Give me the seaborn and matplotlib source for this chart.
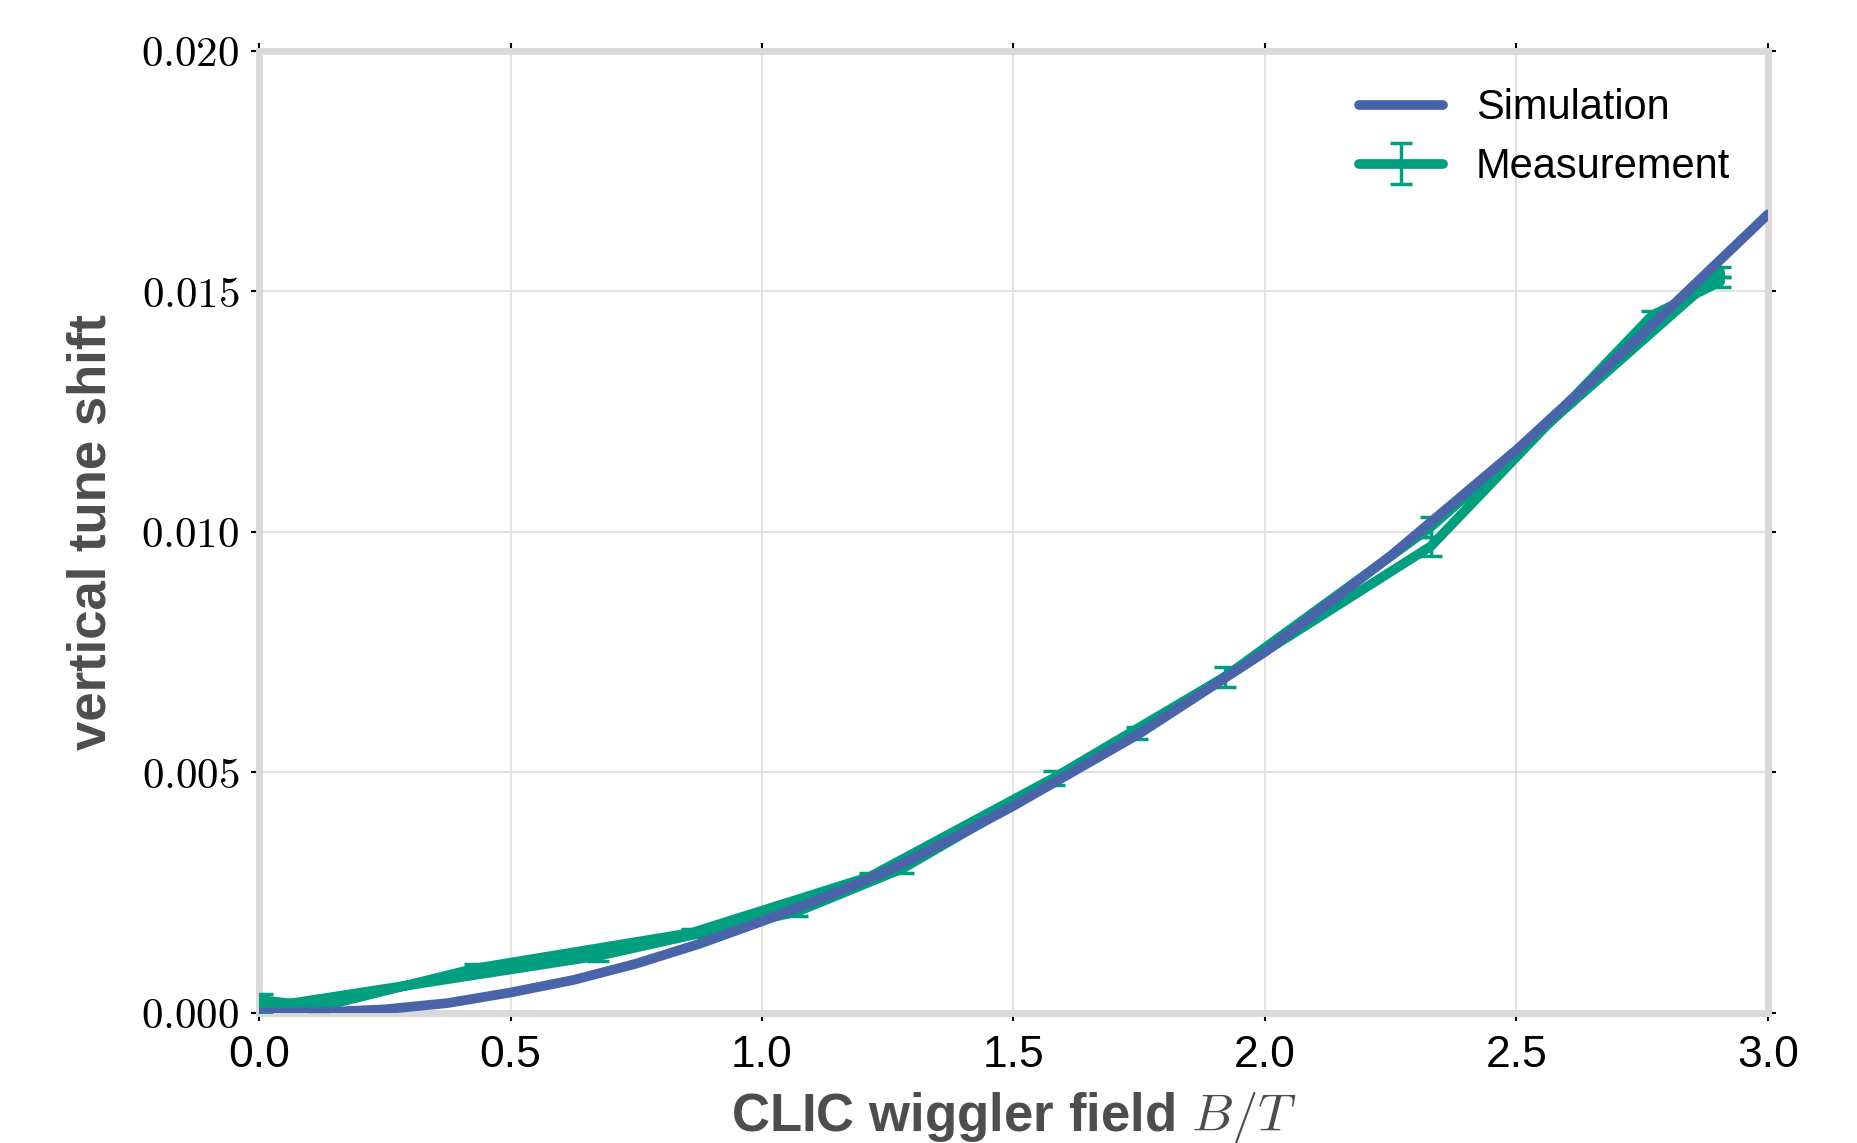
import numpy as np
import pandas as pd
import matplotlib
matplotlib.use("Agg")
import matplotlib.pyplot as plt
import matplotlib.ticker as mticker
import seaborn as sns

# Simulation curve
sim_field = [0.0, 0.125, 0.25, 0.375, 0.5, 0.625, 0.75, 0.875, 1.0, 1.125, 1.25,
             1.375, 1.5, 1.625, 1.75, 1.875, 2.0, 2.25, 2.5, 2.75, 3.0]
sim_shift = [0.0, 0.00001, 0.00007, 0.0002, 0.00042, 0.00068, 0.00102, 0.00143,
             0.0019, 0.0024, 0.00295, 0.0036, 0.0043, 0.00505, 0.0058, 0.00665,
             0.0075, 0.0095, 0.0117, 0.0141, 0.0166]

# Measurement, in acquisition order (ramp up then back down)
meas_field = [0.006, 0.12, 0.43, 0.86, 1.215, 1.58, 1.92, 2.33, 2.905,
              2.905, 2.77, 2.33, 1.745, 1.28, 1.07, 0.674, 0.006]
meas_shift = [0.00026, 0.00012, 0.00092, 0.00166, 0.00283, 0.00488, 0.00698, 0.0101, 0.0154,
              0.0152, 0.0145, 0.0097, 0.00582, 0.0030, 0.0021, 0.00118, 0.00010]
meas_err = [0.00012, 0.00008, 0.0001, 0.00008, 0.00008, 0.00015, 0.0002, 0.0002, 0.0001,
            0.0001, 0.0001, 0.0002, 0.00012, 0.0001, 0.00008, 0.0001, 0.0001]

sim_color = "#4A64AA"
meas_color = "#029E80"

sns.set_theme(style="whitegrid")
plt.rcParams["font.family"] = ["Liberation Sans", "DejaVu Sans"]
plt.rcParams["mathtext.fontset"] = "cm"

fig = plt.figure(figsize=(18.57, 11.43), dpi=100)
ax = fig.add_axes([0.1395, 0.114, 0.8125, 0.8415])

df_sim = pd.DataFrame({"B": sim_field, "dQ": sim_shift})

ax.errorbar(meas_field, meas_shift, yerr=meas_err, color=meas_color, lw=7,
            elinewidth=2.5, capsize=8, capthick=2.5, label="Measurement", zorder=3)
sns.lineplot(data=df_sim, x="B", y="dQ", color=sim_color, lw=7, ax=ax,
             label="Simulation", zorder=4)

ax.set_xlim(0, 3.0)
ax.set_ylim(0, 0.020)
ax.xaxis.set_major_locator(mticker.MultipleLocator(0.5))
ax.yaxis.set_major_locator(mticker.MultipleLocator(0.005))
ax.yaxis.set_major_formatter(mticker.FuncFormatter(lambda v, p: f"${v:.3f}$"))

ax.grid(True, color="#dddddd", lw=1.2)
for s in ax.spines.values():
    s.set_color("#d9d9d9")
    s.set_linewidth(5)

ax.tick_params(axis="both", which="major", direction="out", length=6, width=1.5,
               color="black", labelcolor="black", top=True, right=True,
               bottom=True, left=True, labeltop=False, labelright=False)
ax.tick_params(axis="x", labelsize=32, pad=10)
ax.tick_params(axis="y", labelsize=31, pad=8)

ax.set_xlabel("CLIC wiggler field $B/T$", fontsize=38, fontweight="bold",
              color="#4d4d4d", labelpad=10)
ax.set_ylabel("vertical tune shift", fontsize=38, fontweight="bold",
              color="#4d4d4d", labelpad=18)

handles, labels = ax.get_legend_handles_labels()
order = [labels.index("Simulation"), labels.index("Measurement")]
leg = ax.legend([handles[i] for i in order], [labels[i] for i in order],
                loc="upper right", frameon=False, fontsize=30, handlelength=2.0,
                borderaxespad=0.5, labelspacing=0.45)
for t in leg.get_texts():
    t.set_color("black")

fig.savefig("out.png", dpi=100)
